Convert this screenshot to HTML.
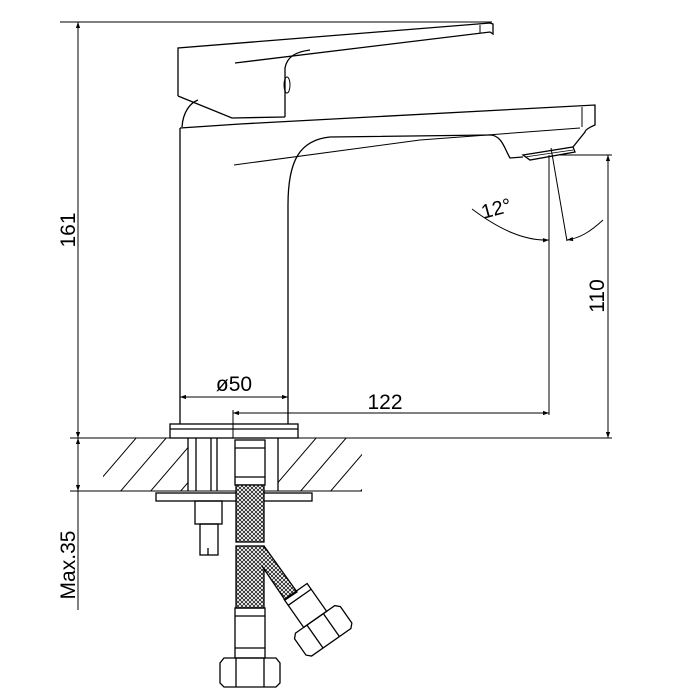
<!DOCTYPE html>
<html><head><meta charset="utf-8"><style>
html,body{margin:0;padding:0;background:#fff}
svg{display:block}
text{font-family:"Liberation Sans",sans-serif;fill:#000}
</style></head><body>
<svg width="700" height="700" viewBox="0 0 700 700" xmlns="http://www.w3.org/2000/svg">
<defs>
<pattern id="mesh" width="4" height="4" patternUnits="userSpaceOnUse">
<rect width="4" height="4" fill="#fff"/>
<path d="M0,0L4,4M4,0L0,4" stroke="#000" stroke-width="0.7"/>
</pattern>
<marker id="ar" viewBox="0 0 10 10" refX="10" refY="5" markerWidth="14" markerHeight="6" orient="auto-start-reverse" markerUnits="userSpaceOnUse">
<path d="M0,1.5L10,5L0,8.5z" fill="#000"/>
</marker>
<clipPath id="hc"><path d="M103,438H188V491H103ZM278,438H362V491H278Z"/></clipPath>
</defs>
<g fill="none" stroke="#000" stroke-width="1.3">
<line x1="60" y1="22" x2="492" y2="22" stroke-width="1"/>
<line x1="78" y1="22" x2="78" y2="438" marker-start="url(#ar)" marker-end="url(#ar)" stroke-width="1"/>
<line x1="70" y1="438" x2="612" y2="438" stroke-width="1"/>
<line x1="70" y1="491" x2="362" y2="491" stroke-width="1"/>
<line x1="78" y1="438" x2="78" y2="491" marker-start="url(#ar)" marker-end="url(#ar)" stroke-width="1"/>
<line x1="78" y1="491" x2="78" y2="610" stroke-width="1"/>
<g stroke-width="1" clip-path="url(#hc)">
<path d="M83,500L143,430M113,500L173,430M143,500L203,430M173,500L233,430M263,500L323,430M293,500L353,430M323,500L383,430M353,500L413,430"/>
</g>
<line x1="188" y1="438" x2="188" y2="491"/>
<line x1="278" y1="438" x2="278" y2="491"/>
<rect x="170" y="424" width="128" height="14"/>
<line x1="170" y1="429" x2="298" y2="429"/>
<line x1="180" y1="128" x2="180" y2="424"/>
<path d="M288,424L288,205C288,160 300,140 330,137L490,135C502,135 505,150 510,158L523,157"/>
<path d="M523,155L573,147L575,152L530,160Z"/>
<line x1="525" y1="157" x2="573" y2="150" stroke-width="0.8"/>
<path d="M180,128L240,124L595,105L595,125C590,127 585,130 585,132L573,147"/>
<line x1="582" y1="107" x2="582" y2="127" stroke-width="1"/>
<path d="M234,165L420,140L580,128" stroke-width="1"/>
<path d="M182,127C183,112 190,103 198,100"/>
<!-- handle -->
<path d="M178,96L178,48L490,23L493,24L493,34L490,32L235,63"/>
<path d="M178,96L232,118L285,117"/>
<path d="M285,117L285,68C287,57 295,52 310,50"/>
<ellipse cx="287" cy="85" rx="3" ry="8" stroke-width="1"/>
<line x1="480" y1="25" x2="480" y2="33" stroke-width="1"/>
<line x1="180" y1="390" x2="180" y2="424" stroke-width="1"/>
<line x1="288" y1="390" x2="288" y2="424" stroke-width="1"/>
<line x1="180" y1="397" x2="288" y2="397" marker-start="url(#ar)" marker-end="url(#ar)" stroke-width="1"/>
<line x1="233" y1="410" x2="233" y2="438" stroke-width="1"/>
<line x1="233" y1="413" x2="549" y2="413" marker-start="url(#ar)" marker-end="url(#ar)" stroke-width="1"/>
<line x1="549" y1="155" x2="549" y2="415" stroke-width="1"/>
<line x1="560" y1="155" x2="612" y2="155" stroke-width="1"/>
<line x1="608" y1="155" x2="608" y2="438" marker-start="url(#ar)" marker-end="url(#ar)" stroke-width="1"/>
<line x1="551" y1="148" x2="567" y2="241" stroke-width="1"/>
<path d="M472,209C500,230 525,241 549,240" marker-end="url(#ar)" stroke-width="1"/>
<path d="M603,220C590,232 580,238 567,240" marker-end="url(#ar)" stroke-width="1"/>
<rect x="156" y="493" width="156" height="8"/>
<line x1="196" y1="438" x2="196" y2="491"/>
<line x1="211" y1="438" x2="211" y2="491"/>
<line x1="217" y1="438" x2="217" y2="491"/>
<rect x="235" y="440" width="30" height="45"/>
<line x1="235" y1="448" x2="265" y2="448"/>
<line x1="235" y1="477" x2="265" y2="477"/>
<rect x="195" y="501" width="27" height="23"/>
<rect x="200" y="524" width="18" height="31"/>
<line x1="208" y1="548" x2="208" y2="555"/>
<rect x="236" y="485" width="28" height="57" fill="url(#mesh)"/>
<rect x="236" y="546" width="28" height="62" fill="url(#mesh)"/>
<path d="M264,546L297,592L285,600L262,566" fill="url(#mesh)"/>
<rect x="235" y="608" width="30" height="50"/>
<line x1="235" y1="616" x2="265" y2="616"/>
<line x1="235" y1="648" x2="265" y2="648"/>
<path d="M224,658L276,658L280,663L280,683L276,687L224,687L220,683L220,663Z"/>
<line x1="236" y1="658" x2="236" y2="687"/>
<line x1="264" y1="658" x2="264" y2="687"/>
<g transform="translate(310,612) rotate(-35)">
<rect x="-14" y="-25" width="28" height="34"/>
<line x1="-14" y1="-18" x2="14" y2="-18"/>
<path d="M-24,9L24,9L28,13L28,33L24,37L-24,37L-28,33L-28,13Z"/>
<line x1="-10" y1="9" x2="-10" y2="37"/>
<line x1="10" y1="9" x2="10" y2="37"/>
</g>
</g>
<text x="0" y="0" font-size="21" transform="translate(75,230) rotate(-90)" text-anchor="middle">161</text>
<text x="0" y="0" font-size="21" transform="translate(604,296) rotate(-90)" text-anchor="middle">110</text>
<text x="0" y="0" font-size="21" transform="translate(75,565) rotate(-90)" text-anchor="middle">Max.35</text>
<text x="234" y="391" font-size="21" text-anchor="middle">ø50</text>
<text x="385" y="409" font-size="21" text-anchor="middle">122</text>
<text x="0" y="0" font-size="20" transform="translate(498,215) rotate(-15)" text-anchor="middle">12°</text>
</svg>
</body></html>
